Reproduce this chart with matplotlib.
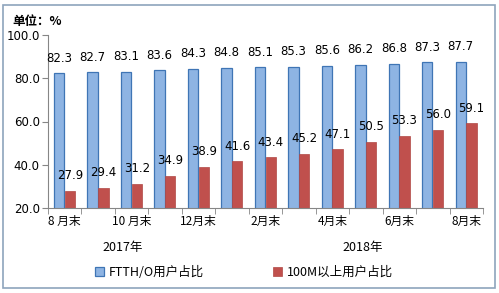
import matplotlib
matplotlib.use("Agg")
import matplotlib.pyplot as plt
from matplotlib.patches import Rectangle
import numpy as np

plt.rcParams['font.family'] = ['DejaVu Sans', 'Noto Sans CJK SC']

categories = ["8 月末", "9月末", "10 月末", "11月末", "12月末", "1月末", "2月末",
              "3月末", "4月末", "5月末", "6月末", "7月末", "8月末"]
shown_labels = ["8 月末", "", "10 月末", "", "12月末", "", "2月末",
                "", "4月末", "", "6月末", "", "8月末"]
ftth = [82.3, 82.7, 83.1, 83.6, 84.3, 84.8, 85.1, 85.3, 85.6, 86.2, 86.8, 87.3, 87.7]
m100 = [27.9, 29.4, 31.2, 34.9, 38.9, 41.6, 43.4, 45.2, 47.1, 50.5, 53.3, 56.0, 59.1]
yticks = [20.0, 40.0, 60.0, 80.0, 100.0]
years = ["2017年", "2018年"]
series_names = ["FTTH/O用户占比", "100M以上用户占比"]

W, H = 499, 293
fig = plt.figure(figsize=(W / 100, H / 100), dpi=100)
fig.patch.set_facecolor("white")

# outer border
fig.add_artist(Rectangle((3 / W, 5 / H), (495 - 3) / W, (288 - 5) / H,
                         transform=fig.transFigure, fill=False,
                         edgecolor="#8EA4BC", linewidth=1.2))

ax = fig.add_axes([48 / W, (H - 208) / H, (483 - 48) / W, (208 - 35) / H])
x = np.arange(len(categories))
bw = 0.31
b1 = ax.bar(x - bw / 2 - 0.01, ftth, width=bw, bottom=0, color="#8EB4E3",
            edgecolor="#3F75B5", linewidth=0.9, label=series_names[0])
b2 = ax.bar(x + bw / 2, m100, width=bw, color="#C0504D", edgecolor="#B04744",
            linewidth=0.5, label=series_names[1])

ax.set_ylim(20, 100)
ax.set_xlim(-0.5, len(categories) - 0.5)
ax.set_yticks(yticks)
ax.set_yticklabels([f"{v:.1f}" for v in yticks], fontsize=8.5)
ax.set_xticks(x)
ax.set_xticklabels(shown_labels, fontsize=8.5, family=['Noto Sans CJK SC', 'DejaVu Sans'])
ax.set_xticks(np.arange(-0.5, len(categories), 1), minor=True)
ax.tick_params(axis='x', which='major', length=0, pad=5)
ax.tick_params(axis='x', which='minor', length=4, color="#868686")
ax.tick_params(axis='y', length=4, color="#868686", pad=2)
for s in ["top", "right"]:
    ax.spines[s].set_visible(False)
for s in ["left", "bottom"]:
    ax.spines[s].set_color("#868686")

for xi, v in zip(x, ftth):
    ax.text(xi - bw / 2 - 0.01, v + 4, f"{v:.1f}", ha="center", va="bottom", fontsize=8.5)
for xi, v in zip(x, m100):
    ax.text(xi + bw / 2, v + 4, f"{v:.1f}", ha="center", va="bottom", fontsize=8.5)

fig.text(12 / W, 1 - 22 / H, "单位：%", fontsize=9, fontweight="bold",
         family=['Noto Sans CJK SC', 'DejaVu Sans'], va="center", ha="left")
fig.text(123 / W, 1 - 247 / H, years[0], fontsize=9,
         family=['Noto Sans CJK SC'], ha="center", va="center")
fig.text(363 / W, 1 - 247 / H, years[1], fontsize=9,
         family=['Noto Sans CJK SC'], ha="center", va="center")

leg = fig.legend(handles=[b1, b2], labels=series_names, loc="center",
                 bbox_to_anchor=(244 / W, 1 - 272 / H), ncol=2, frameon=False,
                 handlelength=0.7, handleheight=0.7,
                 columnspacing=5.5, handletextpad=0.4,
                 prop={'family': ['Noto Sans CJK SC', 'DejaVu Sans'], 'size': 9})

fig.savefig("out.png", dpi=100, facecolor="white")
